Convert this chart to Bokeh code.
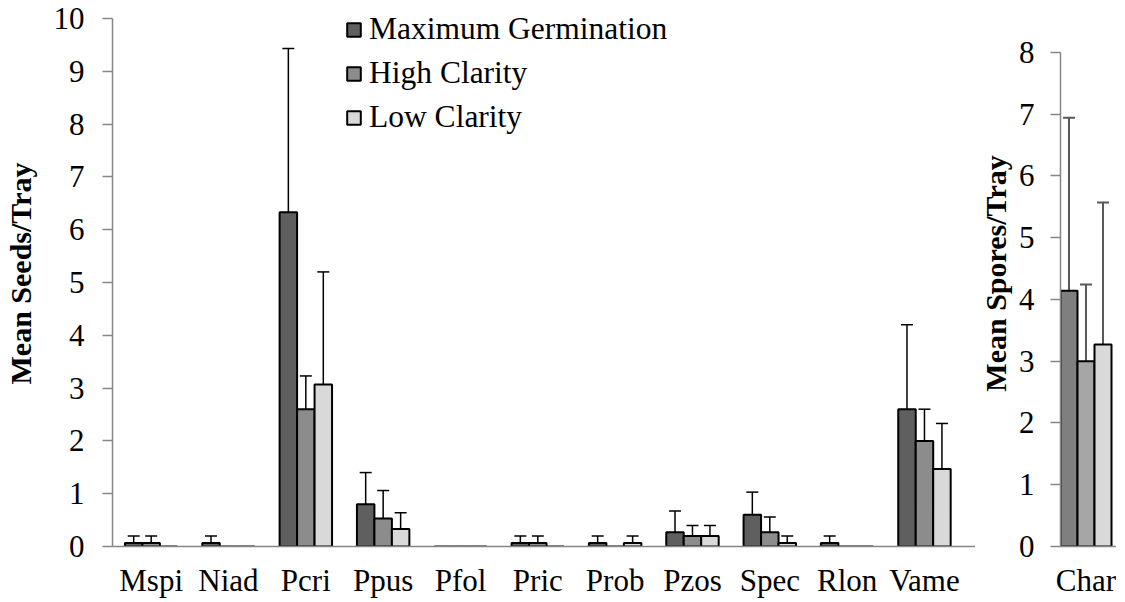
import numpy as np
from bokeh.plotting import figure
from bokeh.models import (Range1d, FixedTicker, Whisker, TeeHead, ColumnDataSource,
                          Legend, LegendItem)
from bokeh.layouts import row
from bokeh.embed import file_html
from bokeh.resources import INLINE

# ---------------- data ----------------
cats = ["Mspi", "Niad", "Pcri", "Ppus", "Pfol", "Pric", "Prob", "Pzos", "Spec", "Rlon", "Vame"]
series = ["Maximum Germination", "High Clarity", "Low Clarity"]

mg_mean = [0.067, 0.067, 6.33, 0.80, 0.0, 0.067, 0.067, 0.27, 0.60, 0.067, 2.60]
mg_err = [0.133, 0.133, 3.10, 0.60, 0.0, 0.133, 0.133, 0.40, 0.43, 0.133, 1.60]
hc_mean = [0.067, 0.0, 2.60, 0.53, 0.0, 0.067, 0.0, 0.20, 0.27, 0.0, 2.00]
hc_err = [0.133, 0.0, 0.63, 0.53, 0.0, 0.133, 0.0, 0.20, 0.29, 0.0, 0.60]
lc_mean = [0.0, 0.0, 3.07, 0.33, 0.0, 0.0, 0.067, 0.20, 0.067, 0.0, 1.47]
lc_err = [0.0, 0.0, 2.13, 0.31, 0.0, 0.0, 0.133, 0.20, 0.133, 0.0, 0.86]

char_cats = ["Char"]
char_mean = [4.14, 3.00, 3.27]
char_err = [2.80, 1.24, 2.30]

seed_ticks = [0, 1, 2, 3, 4, 5, 6, 7, 8, 9, 10]
spore_ticks = [0, 1, 2, 3, 4, 5, 6, 7, 8]

# ---------------- style ----------------
FONT = "Liberation Serif"
AX = "#868686"
left_colors = ["#5f5f5f", "#8c8c8c", "#d9d9d9"]
right_colors = ["#7f7f7f", "#a6a6a6", "#d9d9d9"]
BW = 0.226
FH = 546
BOTTOM = 56


def style_axes(p, yticks, title, label_standoff, title_standoff):
    p.xgrid.visible = False
    p.ygrid.visible = False
    p.outline_line_color = None
    p.background_fill_color = "white"
    p.border_fill_color = "white"
    p.yaxis.ticker = FixedTicker(ticks=yticks)
    p.yaxis.bounds = (yticks[0], yticks[-1])
    p.yaxis.axis_line_color = AX
    p.yaxis.axis_line_width = 1.5
    p.yaxis.major_tick_line_color = AX
    p.yaxis.major_tick_line_width = 1.5
    p.yaxis.major_tick_out = 10
    p.yaxis.major_tick_in = 0
    p.yaxis.minor_tick_line_color = None
    p.yaxis.major_label_text_font = FONT
    p.yaxis.major_label_text_font_size = "31px"
    p.yaxis.major_label_text_color = "black"
    p.yaxis.major_label_standoff = label_standoff
    p.yaxis.axis_label = title
    p.yaxis.axis_label_text_font = FONT
    p.yaxis.axis_label_text_font_size = "30px"
    p.yaxis.axis_label_text_font_style = "bold"
    p.yaxis.axis_label_text_color = "black"
    p.yaxis.axis_label_standoff = title_standoff
    p.xaxis.axis_line_color = AX
    p.xaxis.axis_line_width = 1.5
    p.xaxis.major_tick_line_color = None
    p.xaxis.major_tick_out = 0
    p.xaxis.major_tick_in = 0
    p.xaxis.minor_tick_line_color = None
    p.xaxis.major_label_text_font = FONT
    p.xaxis.major_label_text_font_size = "31px"
    p.xaxis.major_label_text_color = "black"
    p.xaxis.major_label_standoff = 16


# ---------------- left chart ----------------
# frame reaches the top of the page; 0..10 spans 528 px, axis line bounded to 0..10
n = len(cats)
p = figure(frame_width=863, frame_height=FH,
           min_border_left=110, min_border_right=0, min_border_top=0, min_border_bottom=BOTTOM,
           x_range=Range1d(-0.5, 10.66), y_range=Range1d(0, 10.34),
           output_backend="svg", toolbar_location=None)
style_axes(p, seed_ticks, "Mean Seeds/Tray", 18, 14)
p.xaxis.ticker = FixedTicker(ticks=list(range(n)))
p.xaxis.major_label_overrides = {i: c for i, c in enumerate(cats)}

items = []
for i, (name, m, e, col) in enumerate(zip(series, [mg_mean, hc_mean, lc_mean],
                                           [mg_err, hc_err, lc_err], left_colors)):
    m = np.array(m)
    e = np.array(e)
    x = np.arange(n) + (i - 1) * BW
    src = ColumnDataSource(dict(x=x, top=m))
    r = p.vbar(x="x", top="top", width=BW, fill_color=col, line_color="black",
               line_width=2, source=src)
    items.append(LegendItem(label=name, renderers=[r]))
    mask = m > 0
    wsrc = ColumnDataSource(dict(base=x[mask], upper=(m + e)[mask],
                                 lower=np.maximum(0, m - e)[mask]))
    p.add_layout(Whisker(source=wsrc, base="base", upper="upper", lower="lower",
                         line_color="black", line_width=1.5,
                         upper_head=TeeHead(size=12, line_color="black", line_width=1.5),
                         lower_head=TeeHead(size=12, line_color="black", line_width=1.5)))

legend = Legend(items=items, location=(233, 411), orientation="vertical")
legend.background_fill_alpha = 0
legend.border_line_alpha = 0
legend.padding = 0
legend.margin = 0
legend.spacing = 8
legend.glyph_width = 17
legend.glyph_height = 17
legend.label_height = 35
legend.label_standoff = 7
legend.label_text_font = FONT
legend.label_text_font_size = "31.5px"
legend.label_text_color = "black"
p.add_layout(legend)

# ---------------- right chart ----------------
# same frame as the left chart; 0..8 spans 494 px, axis line bounded to 0..8
q = figure(frame_width=56, frame_height=FH,
           min_border_left=83, min_border_right=0, min_border_top=0, min_border_bottom=BOTTOM,
           x_range=Range1d(-0.5, 0.598), y_range=Range1d(0, 8.84),
           output_backend="svg", toolbar_location=None)
style_axes(q, spore_ticks, "Mean Spores/Tray", 16, 4)
q.xaxis.ticker = FixedTicker(ticks=[0])
q.xaxis.major_label_overrides = {0: char_cats[0]}

cw = 1.0 / 3.0
cx = np.array([(i - 1) * cw for i in range(3)])
cm = np.array(char_mean)
ce = np.array(char_err)
csrc = ColumnDataSource(dict(x=cx, top=cm, color=right_colors))
q.vbar(x="x", top="top", width=cw, fill_color="color", line_color="black",
       line_width=2, source=csrc)
cwsrc = ColumnDataSource(dict(base=cx, upper=cm + ce, lower=np.maximum(0, cm - ce)))
q.add_layout(Whisker(source=cwsrc, base="base", upper="upper", lower="lower",
                     line_color="#595959", line_width=2,
                     upper_head=TeeHead(size=12, line_color="#595959", line_width=2),
                     lower_head=TeeHead(size=12, line_color="#595959", line_width=2)))

layout = row(p, q, spacing=0)
open("out.html", "w").write(file_html(layout, INLINE))
